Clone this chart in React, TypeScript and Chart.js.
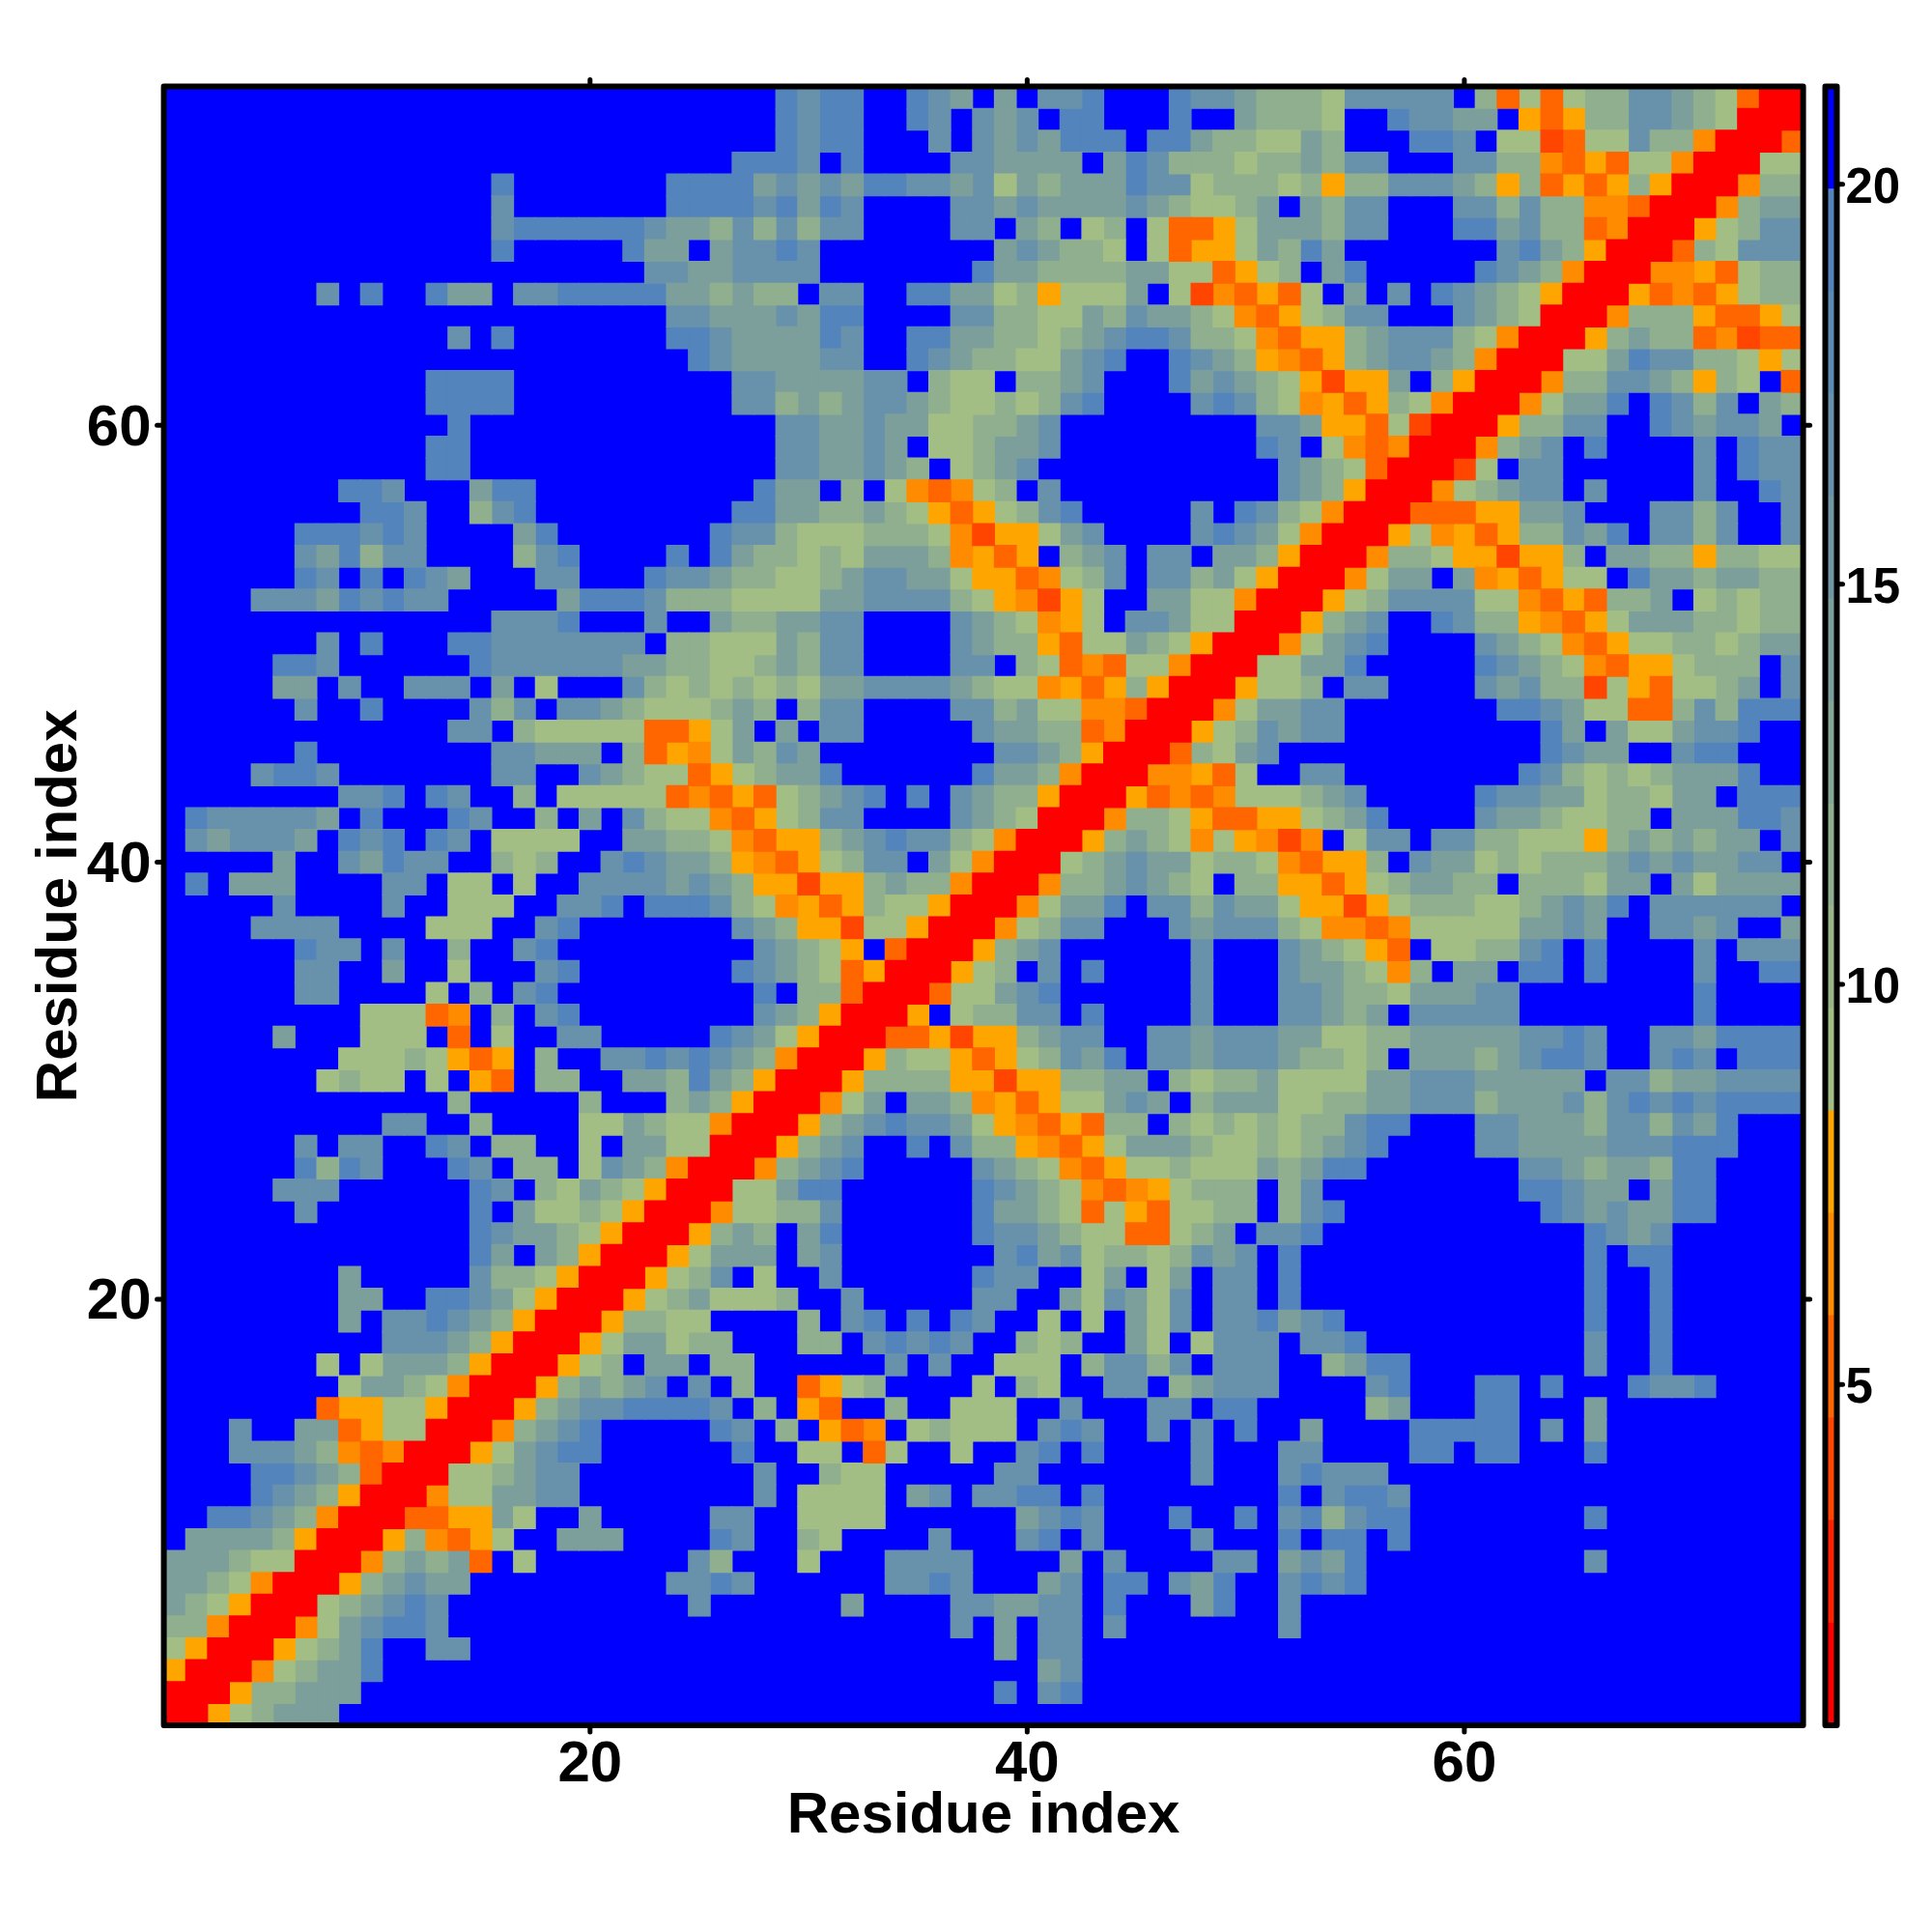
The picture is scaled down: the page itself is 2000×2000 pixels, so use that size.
import React, { useEffect, useRef } from "react";
import { Chart, registerables } from "chart.js";

Chart.register(...registerables);

// Upper-left half of the symmetric map, one row per residue from y = 75 down to y = 1.
// Run-length text: "28B" = 28 cells of level B. The other half is its mirror image.
const HALF_MATRIX_ROWS = [
  "28Bst2s2BstmBmB2ts3Bs2tm3gG5tBgoGoG2g2tmgGo2R",
  "28Bst2s2BstBtmtB2s3Bs2Bm3gG2Bs2t2mByoy2g2tmgG2R",
  "28Bst2s3BtBtmtm3sB2sm2g2Gmg3B2stB2GOo2Gt2ga2R",
  "26B3stBs4B2t4mBmst3gG2gmg2t3B2t2gaoyo2Ga2R",
  "15Bs7B4smtmtm2s2tmtGmg3ms2tG3gGgy2g3tmgygoyoygy2R",
  "15Bt7B4stsmst4B2tmt4mtmg2GgmBmg2t3B2tgt2g2ao2R",
  "15Bt6st2mgtgtg2t4B2tBmgBGgBG2oyG3mg2t3B2smt2goa2R",
  "15Bs5Bs2mBm2tst8Bmtm2gGBGo2yGmgsm7Btsmgy2R",
  "22B2t2m4t7Bs2m4g2m2GoyGgBms5Bstmga2R",
  "7BtBs2Bs2mB2t5s2mgm2gB2t2B2s2mGgy3GmBGOaoyoGBmBtBstmgGy2R",
  "23B2t3mtm2s4B2t2g2Gmgt2mgGaoyGg2t3BtmgG2R",
  "13BtBs7B2st4mst2B2s2m2gGgmt2st2gGao2ygm3tgGa2R",
  "24Bst4m2t2Bstm2g2Gmts2Bstmgyaoygm2tmga2R",
  "12B4s10B2t4m2tBg2GB2gmt3BsmtmgGyO2ymBgy2R",
  "12B4s10B2tgmgm2tmg2GgGgts4BtstgGayoygGa2R",
  "13Bs14B2t2mt2m2G2gmt9B2tm2yoGO2R",
  "12B2s14B2t2mtmB2Gg2mt9BstBGaoa2R",
  "12B2s14B2t2mtmgBGgmt11BtmgGo2R",
  "8B2st3Bm2s10Bs2mBgBGaoaGgBt10Btmgy2R",
  "9B2st2Bgts9B2s2m2gmgGyoyGgts5BtBstgGa2R",
  "6B3stst4Bms7Bs2tg3G3gGaO2yGmt4BtstmGa2R",
  "6Btmsg2t4Bgts4BsBsm2gGgG3mgayoyBgmtB2tB2mgy2R",
  "6BstBsBstm3B2t3Bs2tm2g2Ggm2t2mG2yoaGgtB2tgmGy2R",
  "4B3tmsts2t5Bm3st3g4G2m4tgGyaOyG2B2m2Ga2R",
  "15B3ts3Bt2Bm2g2m2t4BtmgGayGB2tm2G2R",
  "7BtBs3B2s7tB2g3Gmg2t4Btm2gyo2GmgGy2R",
  "5B2st6Bs6t2m2g2Ggmg2t4B2tBgGoao2Ga2R",
  "5B2mBt2B3tBmBG3BtgGgGgGgG2m4tmg2Gayoygy2R",
  "6Bt2Bs4BtgtB2tmg3GgmgBg2t4B2tgm2G2ao2R",
  "13B2tBg5G2oyGmBmB2t5Bt2m2goa2R",
  "6Bs8B2t3mBgoyaGmgtm8B2tmgy2R",
  "4Bt2st7B2t2Btmg2GoyGg2ms6Bs2mga2R",
  "8B2tsBst2BgB5GoaoyoGgmtsBsBtm2gy2R",
  "Bs5tmBs3Bst2BgBmBtg2GaoyGg2t4BtmgG2R",
  "Btm3tmBstsBstB4G2B2m2gGao2ygmts2tgGa2R",
  "5Bm2Btms2t2BgGg2Btst2mgyaoyGg2tBmGa2R",
  "BsB3m4B2tB2GBG2B4tmtmg2yO2ygm2ga2R",
  "5Bt4Bt2B3G2B2tsB3stgGayoyg2Gy2R",
  "4B4t4B3G2Bts7Btmg2yO2Gy2R",
  "6Bs2tBt2Bg2Bts9BtmgGyBo2R",
  "6B2t2Bm2BG3Bts7BstmgGoy2R",
  "6B2t4BGBgBts9BsB2go2R",
  "9B3GoaBgBts8Btmgy2R",
  "5Bm3B3GBoBG2B2t5BstmGy2R",
  "8B3GgGyoyBg2B2tststmga2R",
  "7BGg2GBGByoB2g2B2mgsmgy2R",
  "13Bg5Bg3Bgmgy2R",
  "10B2t2Bg4B2Gmg2Ga2R",
  "6BtB2t2BstB2g2BGB2m2G2R",
  "6Bsgst3BstB2gBGtmga2R",
  "5B3t6BstBgGmgGy2R",
  "6Bt7BsBm2GgGy2R",
  "14Bst2mgGy2R",
  "14BsmBmgy2R",
  "8Bm5Bt2gGy2R",
  "8B2m2B2stmGy2R",
  "8BmB2tstmgy2R",
  "10B3tmgy2R",
  "7BGBG3mgy2R",
  "8BG2mgGa2R",
  "7Bo2y2Gy2R",
  "3Bt2B2moy2G2R",
  "3B3tmgaoa2R",
  "4B2stmgo2R",
  "4Bstmgy2R",
  "2B2stmga2R",
  "B4mgy2R",
  "3mg2G2R",
  "2mgGa2R",
  "mgGy2R",
  "2ga2R",
  "Gy2R",
  "y2R",
  "2R",
  "R",
];

const LEVEL_CODES = ["R", "O", "o", "a", "y", "G", "g", "m", "t", "s", "B"];
const LEVEL_VALUES = [1.4, 3.9, 5.2, 6.5, 7.8, 9.06, 11.62, 14.18, 16.74, 19.3, 20.6];

const BAND_EDGES = [0.74, 2.02, 3.3, 4.58, 5.86, 7.14, 8.42, 9.7, 10.98, 12.26, 13.54, 14.82, 16.1, 17.38, 18.66, 19.94, 21.22];
const BAND_COLOURS = [
  "#FF0000", "#FF2200", "#FF4500", "#FF6600", "#FF8C00", "#FFA500",
  "#A3BE84", "#9AB688", "#90AF8E", "#86A795", "#7C9F9C", "#7297A4", "#6892AB", "#5E8BB3", "#5484BC", "#0000FF",
];

const RESIDUE_TICKS = [20, 40, 60];
const COLORBAR_TICKS = [5, 10, 15, 20];
const AXIS_TITLE = "Residue index";
const FONT_FAMILY = "'Liberation Sans', Arial, sans-serif";

function colourFor(value: number) {
  const i = BAND_EDGES.findIndex((e, k) => value >= e && value < BAND_EDGES[k + 1]);
  return BAND_COLOURS[i < 0 ? BAND_COLOURS.length - 1 : i];
}

function buildDatasets() {
  const pts: { x: number; y: number }[][] = LEVEL_CODES.map(() => []);
  HALF_MATRIX_ROWS.forEach((row, r) => {
    const y = 75 - r;
    let c = 1;
    for (const m of row.matchAll(/(\d*)([A-Za-z])/g)) {
      const n = m[1] ? parseInt(m[1], 10) : 1;
      const lv = LEVEL_CODES.indexOf(m[2]);
      for (let k = 0; k < n; k++, c++) {
        pts[lv].push({ x: c, y });
        if (c !== y) pts[lv].push({ x: y, y: c });
      }
    }
  });
  return pts.map((data, i) => ({
    data,
    backgroundColor: colourFor(LEVEL_VALUES[i]),
    pointBackgroundColor: colourFor(LEVEL_VALUES[i]),
    pointBorderWidth: 0,
    pointStyle: "rect",
    pointRadius: (ctx: any) => ctx.chart.scales.x.width / 75 / Math.SQRT2 + 0.75,
    showLine: false,
  }));
}

const fixTicks = (values: number[]) => (scale: any) => {
  scale.ticks = values.map((value) => ({ value }));
};

const framePlugin = {
  id: "frameAndTicks",
  afterDraw(chart: any) {
    const { ctx, chartArea: a } = chart;
    ctx.save();
    ctx.strokeStyle = "#000";
    ctx.lineJoin = "round";
    ctx.lineCap = "round";
    ctx.lineWidth = 6;
    ctx.strokeRect(a.left, a.top, a.right - a.left, a.bottom - a.top);
    const tick = (x1: number, y1: number, x2: number, y2: number) => {
      ctx.beginPath();
      ctx.moveTo(x1, y1);
      ctx.lineTo(x2, y2);
      ctx.stroke();
    };
    ctx.lineWidth = 5;
    if (chart.scales.x) {
      for (const v of RESIDUE_TICKS) {
        const x = chart.scales.x.getPixelForValue(v);
        const y = chart.scales.y.getPixelForValue(v);
        tick(x, a.bottom, x, a.bottom + 7);
        tick(x, a.top, x, a.top - 7);
        tick(a.left, y, a.left - 7, y);
        tick(a.right, y, a.right + 7, y);
      }
    }
    if (chart.scales.c) {
      for (const v of COLORBAR_TICKS) {
        const y = chart.scales.c.getPixelForValue(v);
        tick(a.right, y, a.right + 6, y);
      }
    }
    ctx.restore();
  },
};

const hidden = { grid: { display: false }, border: { display: false } };
const boldFont = (size: number) => ({ family: FONT_FAMILY, size, weight: "bold" as const });

export default function App() {
  const mainRef = useRef<HTMLCanvasElement>(null);
  const barRef = useRef<HTMLCanvasElement>(null);

  useEffect(() => {
    const main = new Chart(mainRef.current!, {
      type: "scatter",
      data: { datasets: buildDatasets() as any },
      plugins: [framePlugin],
      options: {
        animation: false,
        responsive: false,
        events: [],
        devicePixelRatio: 1,
        layout: { padding: { left: 0, top: 0, right: 0, bottom: 84 } },
        plugins: { legend: { display: false }, tooltip: { enabled: false } },
        scales: {
          x: {
            type: "linear",
            position: "bottom",
            min: 0.5,
            max: 75.5,
            ...hidden,
            afterBuildTicks: fixTicks(RESIDUE_TICKS),
            afterFit: (s: any) => { s.height = 130; },
            ticks: { color: "#000", font: boldFont(60), padding: -3, maxRotation: 0, autoSkip: false },
            title: { display: true, text: AXIS_TITLE, color: "#000", font: boldFont(60), padding: 0 },
          },
          y: {
            type: "linear",
            position: "left",
            min: 0.5,
            max: 75.5,
            ...hidden,
            afterBuildTicks: fixTicks(RESIDUE_TICKS),
            afterFit: (s: any) => { s.width = 169.6; },
            ticks: { color: "#000", font: boldFont(60), padding: 5, labelOffset: 4, autoSkip: false },
            title: { display: true, text: AXIS_TITLE, color: "#000", font: boldFont(60), padding: { top: 26, bottom: 0 } },
          },
          xTop: {
            type: "linear",
            axis: "x",
            position: "top",
            min: 0.5,
            max: 75.5,
            ...hidden,
            ticks: { display: false },
            afterFit: (s: any) => { s.height = 89.6; },
          },
          yRight: {
            type: "linear",
            axis: "y",
            position: "right",
            min: 0.5,
            max: 75.5,
            ...hidden,
            ticks: { display: false },
            afterFit: (s: any) => { s.width = 133.4; },
          },
        } as any,
      },
    });

    const bar = new Chart(barRef.current!, {
      type: "bar",
      data: {
        labels: ["distance"],
        datasets: BAND_COLOURS.map((colour, i) => ({
          data: [[BAND_EDGES[i], BAND_EDGES[i + 1]]],
          backgroundColor: colour,
          borderWidth: 0,
          barPercentage: 1,
          categoryPercentage: 1,
          grouped: false,
          yAxisID: "c",
          xAxisID: "cx",
        })) as any,
      },
      plugins: [framePlugin],
      options: {
        animation: false,
        responsive: false,
        events: [],
        devicePixelRatio: 1,
        layout: { padding: { left: 9.5, top: 89.6, right: 0, bottom: 214 } },
        plugins: { legend: { display: false }, tooltip: { enabled: false } },
        scales: {
          cx: { type: "category", position: "bottom", display: false, offset: true },
          c: {
            type: "linear",
            position: "right",
            min: BAND_EDGES[0],
            max: BAND_EDGES[BAND_EDGES.length - 1],
            ...hidden,
            afterBuildTicks: fixTicks(COLORBAR_TICKS),
            afterFit: (s: any) => { s.width = 98.5; },
            ticks: { color: "#000", font: boldFont(51), padding: 1, labelOffset: 5, autoSkip: false },
          },
        } as any,
      },
    });

    return () => {
      main.destroy();
      bar.destroy();
    };
  }, []);

  return (
    <div style={{ position: "absolute", left: 0, top: 0, width: 2000, height: 2000, background: "#fff", overflow: "hidden" }}>
      <canvas ref={mainRef} width={2000} height={2000} style={{ position: "absolute", left: 0, top: 0 }} />
      <canvas ref={barRef} width={120} height={2000} style={{ position: "absolute", left: 1880, top: 0 }} />
    </div>
  );
}
